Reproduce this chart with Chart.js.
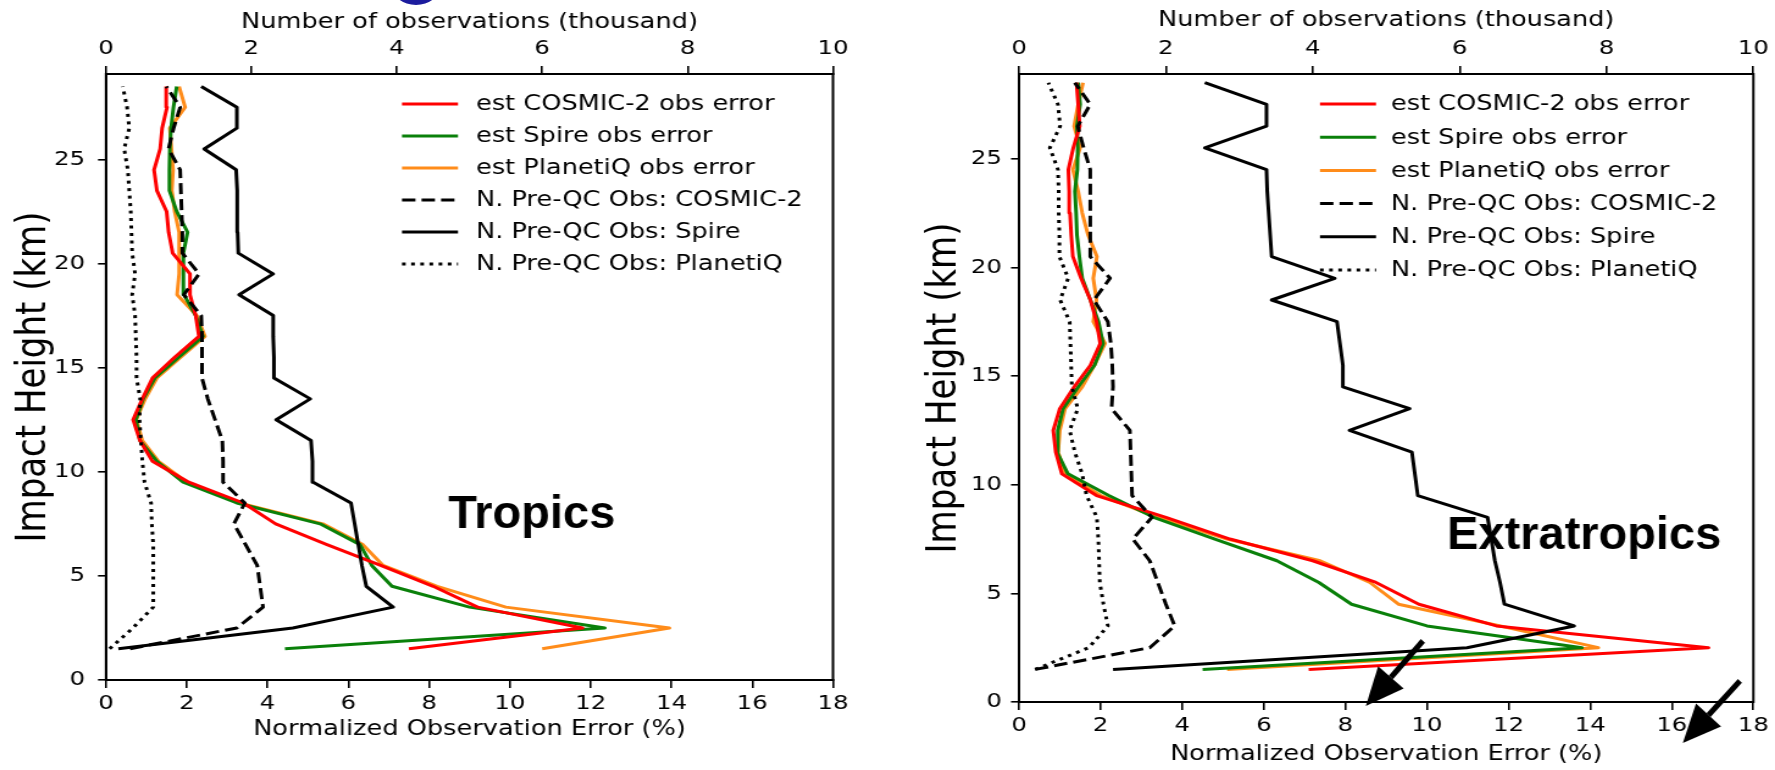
<!DOCTYPE html>
<html>
<head>
<meta charset="utf-8">
<script src="https://cdn.jsdelivr.net/npm/chart.js@4.4.1/dist/chart.umd.min.js"></script>
<style>
  html, body { margin: 0; padding: 0; background: #fff; width: 1775px; height: 770px; overflow: hidden; }
  body { position: relative; }
  #tropics { position: absolute; left: 0; top: 0; }
  #extra { position: absolute; left: 880px; top: 0; }
  #logo { position: absolute; left: 392px; top: -33px; width: 36px; height: 26px; border: 6px solid #1c1c9e; border-radius: 50%; }
</style>
</head>
<body>
<div id="logo"></div>
<canvas id="tropics"></canvas>
<canvas id="extra"></canvas>
<script>
// the source figure was stretched sideways, so the canvases are too
const SX = 1.22;

// impact height levels (km)
const levels = [1.5, 2.5, 3.5, 4.5, 5.5, 6.5, 7.5, 8.5, 9.5, 10.5, 11.5, 12.5, 13.5, 14.5,
  15.5, 16.5, 17.5, 18.5, 19.5, 20.5, 21.5, 22.5, 23.5, 24.5, 25.5, 26.5, 27.5, 28.5];

const errTicks = [0, 2, 4, 6, 8, 10, 12, 14, 16, 18];
const obsTicks = [0, 2, 4, 6, 8, 10];
const heightTicks = [0, 5, 10, 15, 20, 25];

// Tropics: normalized obs error (%)
const tropC2Err = [7.5, 11.8, 9.2, 8.1, 6.8, 5.47, 4.2, 3.4, 2.05, 1.15, 0.84, 0.67, 0.9, 1.15,
  1.7, 2.3, 2.22, 2.08, 2.08, 1.65, 1.55, 1.5, 1.26, 1.19, 1.34, 1.39, 1.51, 1.49];
const tropSpErr = [4.43, 12.35, 9.0, 7.08, 6.58, 6.29, 5.3, 3.24, 1.91, 1.26, 0.84, 0.74, 0.92, 1.21,
  1.8, 2.4, 2.22, 1.93, 1.92, 1.91, 2.02, 1.75, 1.57, 1.57, 1.58, 1.61, 1.67, 1.75];
const tropPqErr = [10.8, 13.95, 9.9, 8.2, 6.86, 6.36, 5.37, 3.3, 2.0, 1.3, 0.9, 0.75, 0.97, 1.26,
  1.85, 2.45, 2.25, 1.76, 1.81, 1.81, 1.81, 1.7, 1.63, 1.66, 1.62, 1.58, 1.96, 1.81];
// Tropics: number of pre-QC obs (thousand)
const tropC2Obs = [0.33, 1.80, 2.16, 2.12, 2.08, 1.92, 1.76, 1.91, 1.61, 1.61, 1.60, 1.50, 1.40, 1.32,
  1.32, 1.32, 1.31, 1.07, 1.28, 1.05, 1.05, 1.04, 1.03, 1.02, 0.86, 0.93, 1.02, 0.83];
const tropSpObs = [0.17, 2.57, 3.95, 3.58, 3.52, 3.47, 3.42, 3.37, 2.85, 2.84, 2.82, 2.34, 2.81, 2.31,
  2.31, 2.30, 2.30, 1.83, 2.30, 1.82, 1.81, 1.81, 1.80, 1.79, 1.35, 1.80, 1.80, 1.31];
const tropPqObs = [0.05, 0.37, 0.65, 0.65, 0.65, 0.65, 0.63, 0.62, 0.53, 0.50, 0.48, 0.46, 0.47, 0.42,
  0.42, 0.41, 0.40, 0.36, 0.40, 0.36, 0.35, 0.34, 0.32, 0.30, 0.25, 0.32, 0.29, 0.23];

// Extratropics: normalized obs error (%)
const extC2Err = [7.1, 16.9, 11.7, 9.8, 8.75, 7.2, 5.17, 3.6, 1.9, 1.05, 0.9, 0.84, 1.0, 1.35,
  1.75, 1.99, 1.9, 1.75, 1.52, 1.32, 1.28, 1.25, 1.23, 1.21, 1.33, 1.49, 1.45, 1.41];
const extSpErr = [4.5, 13.8, 10.0, 8.15, 7.35, 6.32, 4.8, 3.3, 2.2, 1.2, 0.93, 0.95, 1.08, 1.45,
  1.85, 2.06, 1.95, 1.75, 1.55, 1.48, 1.42, 1.40, 1.37, 1.43, 1.44, 1.42, 1.50, 1.45];
const extPqErr = [5.1, 14.2, 11.8, 9.3, 8.6, 7.38, 5.1, 3.4, 2.0, 1.13, 0.96, 1.0, 1.13, 1.55,
  1.85, 2.11, 1.82, 1.90, 1.82, 1.91, 1.69, 1.55, 1.45, 1.32, 1.50, 1.35, 1.45, 1.57];
// Extratropics: number of pre-QC obs (thousand)
const extC2Obs = [0.22, 1.78, 2.12, 2.0, 1.89, 1.78, 1.55, 1.81, 1.54, 1.53, 1.52, 1.51, 1.26, 1.28,
  1.27, 1.25, 1.21, 1.02, 1.24, 0.97, 0.97, 0.97, 0.97, 0.97, 0.88, 0.80, 0.97, 0.76];
const extSpObs = [1.28, 6.10, 7.56, 6.61, 6.55, 6.48, 6.43, 6.38, 5.43, 5.39, 5.35, 4.50, 5.32, 4.41,
  4.41, 4.37, 4.33, 3.44, 4.30, 3.44, 3.42, 3.40, 3.38, 3.37, 2.53, 3.37, 3.37, 2.53];
const extPqObs = [0.22, 0.95, 1.21, 1.15, 1.10, 1.09, 1.08, 1.06, 0.92, 0.86, 0.76, 0.69, 0.80, 0.72,
  0.71, 0.70, 0.69, 0.56, 0.67, 0.55, 0.55, 0.54, 0.54, 0.53, 0.42, 0.56, 0.53, 0.40];

const seriesLabels = [
  "est COSMIC-2 obs error",
  "est Spire obs error",
  "est PlanetiQ obs error",
  "N. Pre-QC Obs: COSMIC-2",
  "N. Pre-QC Obs: Spire",
  "N. Pre-QC Obs: PlanetiQ"
];
const seriesColors = ["#ff0000", "#0a800a", "#ff8c1a", "#000000", "#000000", "#000000"];
const seriesDash = [[], [], [], [11, 5], [], [3, 4.5]];
const seriesAxis = ["x", "x", "x", "x2", "x2", "x2"];

const FONT = "'DejaVu Sans', Verdana, sans-serif";

function makeDatasets(values) {
  return values.map((vals, i) => ({
    label: seriesLabels[i],
    data: vals.map((v, k) => ({ x: v, y: levels[k] })),
    xAxisID: seriesAxis[i],
    yAxisID: "y",
    showLine: true,
    pointRadius: 0,
    borderColor: seriesColors[i],
    borderWidth: 3,
    borderDash: seriesDash[i],
    borderJoinStyle: "round",
    borderCapStyle: "butt",
    fill: false,
    order: i < 3 ? 2 : 1
  }));
}

const insideLegend = {
  id: "insideLegend",
  afterDatasetsDraw(chart, args, opts) {
    const ctx = chart.ctx;
    const area = chart.chartArea;
    ctx.save();
    ctx.font = "21px " + FONT;
    ctx.textBaseline = "middle";
    chart.data.datasets.forEach((d, i) => {
      const y = area.top + opts.top + i * opts.gap;
      const x = area.left + opts.left;
      ctx.beginPath();
      ctx.setLineDash(d.borderDash);
      ctx.strokeStyle = d.borderColor;
      ctx.lineWidth = d.borderWidth;
      ctx.moveTo(x, y);
      ctx.lineTo(x + opts.len, y);
      ctx.stroke();
      ctx.setLineDash([]);
      ctx.fillStyle = "#000";
      ctx.fillText(d.label, area.left + opts.textLeft, y + 1);
    });
    ctx.restore();
  }
};

function drawArrow(ctx, x1, y1, x2, y2, sx) {
  ctx.save();
  ctx.scale(1 / sx, 1);
  const X1 = x1 * sx, X2 = x2 * sx;
  const ang = Math.atan2(y2 - y1, X2 - X1);
  const headLen = 38, headW = 17;
  const bx = X2 - headLen * Math.cos(ang);
  const by = y2 - headLen * Math.sin(ang);
  ctx.strokeStyle = "#000";
  ctx.fillStyle = "#000";
  ctx.lineWidth = 5.5;
  ctx.beginPath();
  ctx.moveTo(X1, y1);
  ctx.lineTo(bx, by);
  ctx.stroke();
  ctx.beginPath();
  ctx.moveTo(X2, y2);
  ctx.lineTo(bx + headW * Math.sin(ang), by - headW * Math.cos(ang));
  ctx.lineTo(bx - headW * Math.sin(ang), by + headW * Math.cos(ang));
  ctx.closePath();
  ctx.fill();
  ctx.restore();
}

const extras = {
  id: "extras",
  afterDatasetsDraw(chart, args, opts) {
    const ctx = chart.ctx;
    const a = chart.chartArea;
    const xs = chart.scales.x, ys = chart.scales.y;
    ctx.save();
    ctx.strokeStyle = "#000";
    ctx.lineWidth = 2;
    ctx.strokeRect(a.left, a.top, a.right - a.left, a.bottom - a.top);

    // slide annotation text is not stretched
    ctx.translate(xs.getPixelForValue(opts.regionAt[0]), ys.getPixelForValue(opts.regionAt[1]));
    ctx.scale(1 / opts.sx, 1);
    ctx.font = "bold 47px 'Liberation Sans', Arial, sans-serif";
    ctx.fillStyle = "#000";
    ctx.textBaseline = "alphabetic";
    ctx.fillText(opts.region, 0, 0);
    ctx.restore();

    opts.arrows.forEach(ar => {
      drawArrow(ctx,
        xs.getPixelForValue(ar[0]), ys.getPixelForValue(ar[1]),
        xs.getPixelForValue(ar[2]), ys.getPixelForValue(ar[3]), opts.sx);
    });
  }
};

function buildChart(canvasId, cssWidth, box, values, region, regionAt, arrows) {
  const canvas = document.getElementById(canvasId);
  const w = Math.round(cssWidth / SX);
  const sx = cssWidth / w;
  canvas.width = w;
  canvas.height = 770;
  canvas.style.width = cssWidth + "px";
  canvas.style.height = "770px";

  const lh = 21 * 1.2 / 2;
  const ylh = 34 * 1.2 / 2;
  const tickFont = { family: FONT, size: 20 };
  const titleFont = { family: FONT, size: 21 };

  const xCommon = {
    type: "linear",
    grid: { drawOnChartArea: false, drawTicks: true, tickLength: 8, color: "#000", lineWidth: 1.6 },
    border: { display: true, color: "#000", width: 2 },
  };

  return new Chart(canvas, {
    type: "scatter",
    data: { datasets: makeDatasets(values) },
    options: {
      responsive: false,
      animation: false,
      layout: { padding: { left: 0, top: 0, bottom: 0, right: w - box.right / sx } },
      plugins: {
        legend: { display: false },
        tooltip: { enabled: false },
        insideLegend: {
          left: box.legendLeft / sx, len: 56 / sx, textLeft: box.legendText / sx,
          top: box.legendTop, gap: box.legendGap
        },
        extras: { region: region, regionAt: regionAt, arrows: arrows, sx: sx }
      },
      scales: {
        x: Object.assign({}, xCommon, {
          position: "bottom",
          min: errTicks[0],
          max: errTicks[errTicks.length - 1],
          afterBuildTicks: s => { s.ticks = errTicks.map(v => ({ value: v })); },
          ticks: { color: "#000", font: tickFont, padding: 4, maxRotation: 0, autoSkip: false },
          title: {
            display: true, text: "Normalized Observation Error (%)", color: "#000", font: titleFont,
            padding: { top: 0, bottom: 770 - box.bottomTitle - lh }
          },
          afterFit: s => { s.height = 770 - box.bottom; }
        }),
        x2: Object.assign({}, xCommon, {
          position: "top",
          min: obsTicks[0],
          max: obsTicks[obsTicks.length - 1],
          afterBuildTicks: s => { s.ticks = obsTicks.map(v => ({ value: v })); },
          ticks: { color: "#000", font: tickFont, padding: 5, maxRotation: 0, autoSkip: false },
          title: {
            display: true, text: "Number of observations (thousand)", color: "#000", font: titleFont,
            padding: { top: box.topTitle - lh, bottom: 0 }
          },
          afterFit: s => { s.height = box.top; }
        }),
        y: {
          type: "linear",
          position: "left",
          min: 0,
          max: box.yMax,
          afterBuildTicks: s => { s.ticks = heightTicks.map(v => ({ value: v })); },
          grid: { drawOnChartArea: false, drawTicks: true, tickLength: 8 / sx, color: "#000", lineWidth: 1.6 },
          border: { display: true, color: "#000", width: 2 },
          ticks: { color: "#000", font: tickFont, padding: box.yTickGap / sx - 8 / sx },
          title: {
            display: true, text: "Impact Height (km)", color: "#000",
            font: { family: FONT, size: 34 },
            padding: { top: box.yTitle / sx - ylh, bottom: 0 }
          },
          afterFit: s => { s.width = box.left / sx; }
        }
      }
    },
    plugins: [insideLegend, extras]
  });
}

buildChart("tropics", 880,
  { left: 106, right: 833, top: 74, bottom: 680, yMax: 29.1,
    yTitle: 34, topTitle: 23, bottomTitle: 730, yTickGap: 21,
    legendLeft: 296, legendText: 370, legendTop: 30, legendGap: 32 },
  [tropC2Err, tropSpErr, tropPqErr, tropC2Obs, tropSpObs, tropPqObs],
  "Tropics", [8.47, 7.31], []);

buildChart("extra", 895,
  { left: 139, right: 874, top: 74, bottom: 702, yMax: 28.9,
    yTitle: 65, topTitle: 21, bottomTitle: 755, yTickGap: 17,
    legendLeft: 301, legendText: 372, legendTop: 30, legendGap: 33.2 },
  [extC2Err, extSpErr, extPqErr, extC2Obs, extSpObs, extPqObs],
  "Extratropics", [10.49, 7.05],
  [[9.90, 2.81, 8.50, -0.18], [17.67, 0.97, 16.27, -1.89]]);
</script>
</body>
</html>
